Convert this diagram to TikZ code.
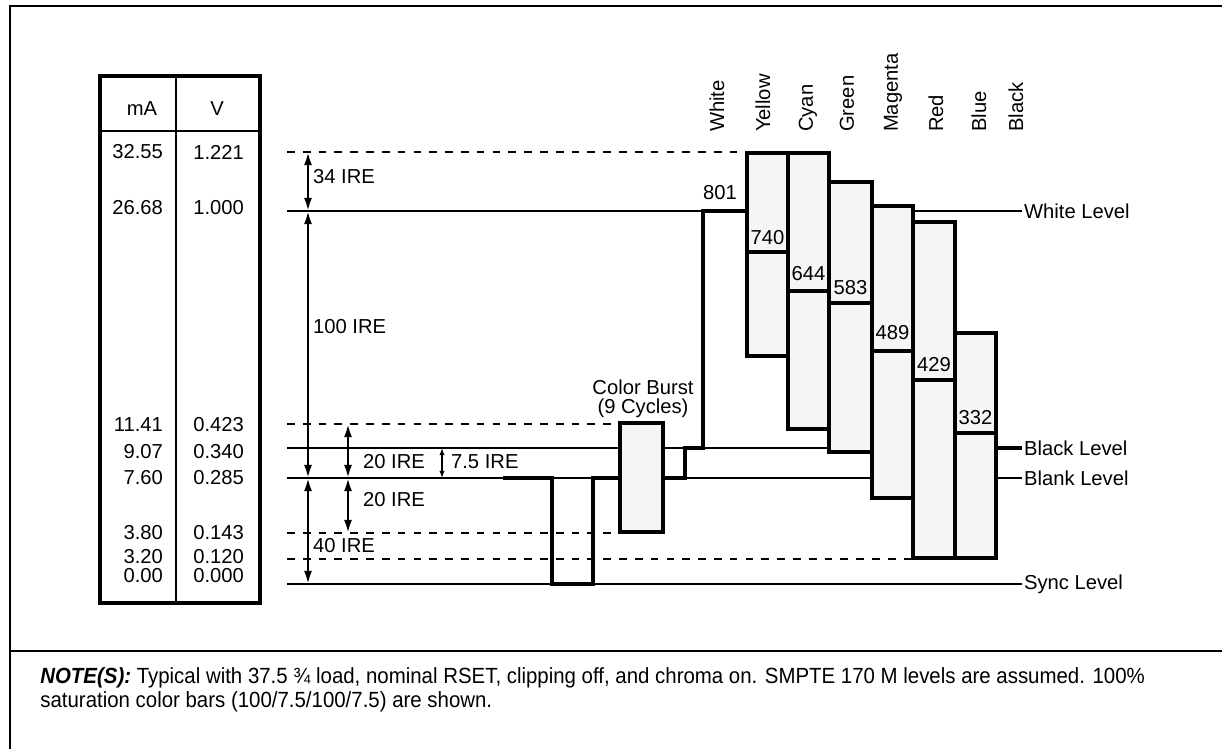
\documentclass[tikz,border=0pt]{standalone}
\usepackage{fontspec}
\setmainfont{Liberation Sans}
\newfontfamily\notefont[FakeStretch=0.93]{Liberation Sans}
\usepackage{tikz}
\usetikzlibrary{arrows.meta}

\tikzset{
	level/.style = {line width = 1pt},
	dashlevel/.style = {line width = 0.8pt, dash pattern = on 4.4pt off 4.6pt},
	signal/.style = {line width = 2.2pt},
	bar/.style = {line width = 2.2pt, fill = black!4},
	dim/.style = {line width = 1.3pt, {Latex[length=7.5pt,width=4.6pt]}-{Latex[length=7.5pt,width=4.6pt]}},
	smalldim/.style = {line width = 0.8pt, {Latex[length=4pt,width=3pt]}-{Latex[length=4pt,width=3pt]}},
	txt/.style = {font = \fontsize{11.5}{13}\selectfont, inner sep = 1pt},
	notetxt/.style = {font = \notefont\fontsize{12.5}{14}\selectfont, inner sep = 0pt, anchor = base west}
}

\begin{document}
\begin{tikzpicture}[x = 0.02cm, y = -0.02cm]
		\useasboundingbox (0,0) rectangle (1222,749);
		\clip (0,0) rectangle (1222,749);
		
		% ramka
		\draw[line width = 1.5pt] (10,780) -- (10,6) -- (1240,6);
		\draw[line width = 1.5pt] (10,651) -- (1240,651);
		
		% tabela mA / V
		\draw[line width = 2pt] (100,76) rectangle (260,603);
		\draw[line width = 1.2pt] (176,76) -- (176,603);
		\draw[line width = 0.8pt] (100,131) -- (260,131);
		\node[txt] (hma) at (142,109) {mA};
		\node[txt] (hv) at (217,109) {V};
		\foreach \y/\ma/\v in {152/32.55/1.221, 208/26.68/1.000, 425/11.41/0.423, 452/9.07/0.340,
			478/7.60/0.285, 533/3.80/0.143, 557/3.20/0.120, 576/0.00/0.000}
		{
			\node[txt, anchor = east] (ma\y) at (165,\y) {\ma};
			\node[txt, anchor = east] (v\y) at (246,\y) {\v};
		}
		
		% poziomy
		\draw[dashlevel] (287,152) -- (745,152);
		\draw[level] (287,211) -- (703,211);
		\draw[dashlevel] (287,424) -- (620,424);
		\draw[level] (287,448) -- (829,448);
		\draw[level] (287,478) -- (872,478);
		\draw[dashlevel] (287,533) -- (620,533);
		\draw[dashlevel] (287,559) -- (913,559);
		\draw[level] (287,584) -- (1022,584);
		\draw[level] (913,211) -- (1022,211);
		\draw[signal] (996,448) -- (1022,448);
		\draw[level] (996,478) -- (1022,478);
		
		\node[txt, anchor = west] (white) at (1022,211) {White Level};
		\node[txt, anchor = west] (black) at (1022,448) {Black Level};
		\node[txt, anchor = west] (blank) at (1022,478) {Blank Level};
		\node[txt, anchor = west] (sync) at (1022,584) {Sync Level};
		
		% wymiary IRE
		\draw[dim] (308,152) -- (308,211);
		\draw[dim] (308,211) -- (308,478);
		\draw[dim] (308,478) -- (308,584);
		\draw[dim] (348,424) -- (348,478);
		\draw[dim] (348,478) -- (348,533);
		\draw[smalldim] (442,448) -- (442,478);
		\node[txt, anchor = west] (ire34) at (311,177) {34 IRE};
		\node[txt, anchor = west] (ire100) at (311,327) {100 IRE};
		\node[txt, anchor = west] (ire40) at (311,546) {40 IRE};
		\node[txt, anchor = west] (ire20a) at (361,462) {20 IRE};
		\node[txt, anchor = west] (ire20b) at (361,500) {20 IRE};
		\node[txt, anchor = west] (ire75) at (449,462) {7.5 IRE};
		
		% sygnal: synchro, burst, biel
		\draw[signal] (503,478) -- (552,478) -- (552,584) -- (593,584) -- (593,478) -- (620,478);
		\draw[bar] (620,423) rectangle (663,532);
		\draw[signal] (663,478) -- (685,478) -- (685,448) -- (703,448) -- (703,211) -- (747,211);
		\node[txt] (burst) at (643,387) {Color Burst};
		\node[txt] (cycles) at (643,408) {(9 Cycles)};
		\node[txt] (n801) at (720,193) {801};
		
		% paski kolorow
		\foreach \xa/\xb/\top/\mid/\bot/\val/\vy in {747/788/153/252/356/740/238, 788/829/153/291/429/644/274,
			829/872/182/303/452/583/288, 872/913/206/351/498/489/333, 913/955/222/380/558/429/365,
			955/996/333/433/558/332/418}
		{
			\draw[bar] (\xa,\top) rectangle (\xb,\bot);
			\draw[signal] (\xa,\mid) -- (\xb,\mid);
			\node[txt] (n\val) at ({(\xa+\xb)/2},\vy) {\val};
		}
		
		% nazwy kolorow
		\foreach \x/\name in {717/White, 763/Yellow, 808/Cyan, 847/Green, 893/Magenta, 936/Red, 979/Blue, 1016/Black}
			\node[txt, rotate = 90, anchor = west] (c\name) at (\x,134) {\name};
		
		% uwagi
		\node[notetxt] (note1) at (40,683) {\textbf{\textit{NOTE(S):}} Typical with 37.5 ¾ load, nominal RSET, clipping off, and chroma on. SMPTE 170 M levels are assumed. 100\%};
		\node[notetxt] (note2) at (40,707) {saturation color bars (100/7.5/100/7.5) are shown.};
	\end{tikzpicture}
\end{document}
